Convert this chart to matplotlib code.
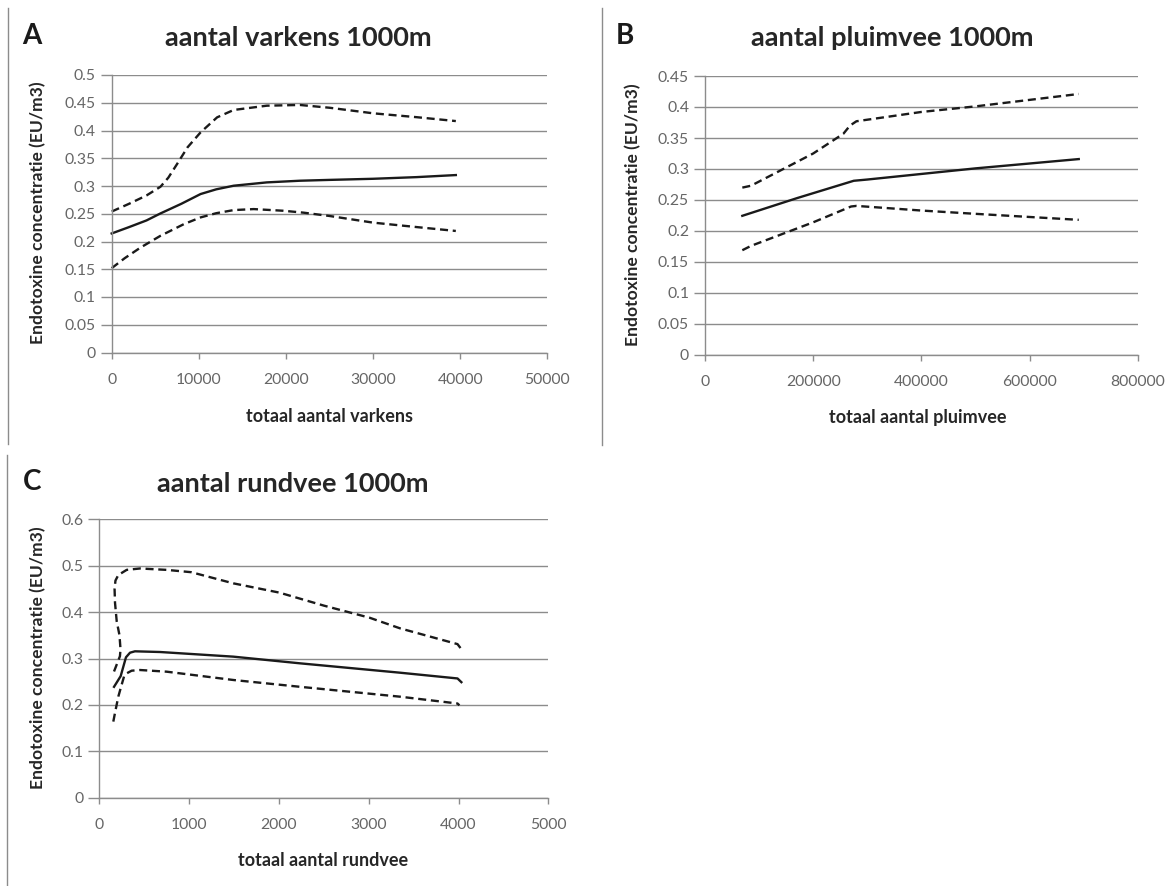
import matplotlib
matplotlib.use("Agg")
import matplotlib.pyplot as plt
from matplotlib.lines import Line2D
from matplotlib.ticker import FuncFormatter, MultipleLocator

plt.rcParams['font.family'] = ['Lato', 'DejaVu Sans']

# data (model fit + confidence band)
a_mid_x = [0, 2000, 4000, 5600, 8000, 10200, 12000, 14000, 17800, 21600, 25000, 30000, 35000, 39500]
a_mid_y = [0.2145, 0.226, 0.238, 0.2506, 0.268, 0.2855, 0.294, 0.3005, 0.3065, 0.3095, 0.311, 0.313, 0.316, 0.3197]
a_up_x = [0, 2000, 4000, 5600, 6500, 7500, 8700, 10200, 12100, 14000, 17800, 21600, 25000, 30000, 35000, 39500]
a_up_y = [0.254, 0.268, 0.283, 0.2987, 0.315, 0.3395, 0.3696, 0.3966, 0.4237, 0.437, 0.4447, 0.446, 0.441, 0.431, 0.424, 0.417]
a_lo_x = [0, 1500, 3300, 5600, 8300, 10200, 12000, 14000, 16300, 19700, 22000, 25000, 30000, 35000, 39500]
a_lo_y = [0.152, 0.170, 0.189, 0.2103, 0.2314, 0.2434, 0.251, 0.2566, 0.2584, 0.2554, 0.252, 0.246, 0.234, 0.226, 0.219]

b_mid_x = [69000, 170000, 260000, 275000, 300000, 500000, 691000]
b_mid_y = [0.2245, 0.253, 0.277, 0.281, 0.283, 0.301, 0.316]
b_up_x = [69000, 85000, 200000, 256000, 268000, 280000, 400000, 500000, 691000]
b_up_y = [0.270, 0.273, 0.325, 0.357, 0.370, 0.377, 0.392, 0.401, 0.421]
b_lo_x = [69000, 85000, 200000, 270000, 280000, 400000, 500000, 691000]
b_lo_y = [0.169, 0.176, 0.214, 0.2395, 0.2405, 0.233, 0.2277, 0.218]

c_mid_x = [164, 238, 267, 297, 342, 397, 676, 1492, 2235, 3349, 3989, 4032]
c_mid_y = [0.239, 0.262, 0.282, 0.3026, 0.3125, 0.3155, 0.314, 0.304, 0.2896, 0.2694, 0.257, 0.249]
c_up_x = [164, 230, 236, 225, 194, 175, 170, 180, 212, 305, 453, 750, 1024, 1492, 2005, 2500, 3008, 3349, 3989, 4032]
c_up_y = [0.272, 0.305, 0.32, 0.35, 0.38, 0.42, 0.45, 0.468, 0.48, 0.491, 0.494, 0.491, 0.486, 0.462, 0.442, 0.414, 0.388, 0.365, 0.331, 0.32]
c_lo_x = [156, 175, 212, 238, 275, 305, 360, 453, 750, 1492, 2235, 3349, 3989, 4010]
c_lo_y = [0.164, 0.183, 0.218, 0.236, 0.261, 0.268, 0.2737, 0.2752, 0.2716, 0.2537, 0.239, 0.2177, 0.203, 0.199]

W, H = 1176, 886
fig = plt.figure(figsize=(W / 100, H / 100), dpi=100)


def fx(x):
    return x / W


def fy(y):
    return 1 - y / H


def make_axes(box, xmax, xstep, ymax, ystep):
    # box in pixels: left, top, right, bottom
    l, t, r, b = box
    ax = fig.add_axes([fx(l), fy(b), fx(r - l), (b - t) / H])
    ax.set_xlim(0, xmax)
    ax.set_ylim(0, ymax)
    ax.xaxis.set_major_locator(MultipleLocator(xstep))
    ax.yaxis.set_major_locator(MultipleLocator(ystep))
    ax.xaxis.set_major_formatter(FuncFormatter(lambda v, p: "%d" % round(v)))
    ax.yaxis.set_major_formatter(FuncFormatter(lambda v, p: "%g" % round(v, 3)))
    for s in ['top', 'right']:
        ax.spines[s].set_visible(False)
    for s in ['left', 'bottom']:
        ax.spines[s].set_color('#8c8c8c')
        ax.spines[s].set_linewidth(1)
    ax.grid(axis='y', color='#8c8c8c', linewidth=1)
    ax.set_axisbelow(True)
    ax.tick_params(axis='y', length=8, width=1, color='#8c8c8c', pad=3.5,
                   labelsize=11.3, labelcolor='#666666')
    ax.tick_params(axis='x', length=4.5, width=1, color='#8c8c8c', pad=10,
                   labelsize=11.3, labelcolor='#666666')
    return ax


def draw(ax, mx, my, ux, uy, lx, ly):
    ax.plot(mx, my, color='#1a1a1a', linewidth=1.7, clip_on=False)
    ax.plot(ux, uy, color='#1a1a1a', linewidth=1.7, dashes=(3.4, 2.0), clip_on=False)
    ax.plot(lx, ly, color='#1a1a1a', linewidth=1.7, dashes=(3.4, 2.0), clip_on=False)


def labels(letter, lpos, title, tpos, xlabel, xpos, ypos):
    fig.text(fx(lpos[0]), fy(lpos[1]), letter, ha='center', va='center',
             fontsize=20, fontweight='bold', color='#1a1a1a')
    fig.text(fx(tpos[0]), fy(tpos[1]), title, ha='center', va='center',
             fontsize=19.5, fontweight='bold', color='#262626')
    fig.text(fx(xpos[0]), fy(xpos[1]), xlabel, ha='center', va='center',
             fontsize=13, fontweight='bold', color='#262626')
    fig.text(fx(ypos[0]), fy(ypos[1]), 'Endotoxine concentratie (EU/m3)',
             ha='center', va='center', rotation=90,
             fontsize=12.6, fontweight='bold', color='#262626')


# A
axA = make_axes((111.7, 75, 547.3, 352.5), 50000, 10000, 0.5, 0.05)
draw(axA, a_mid_x, a_mid_y, a_up_x, a_up_y, a_lo_x, a_lo_y)
labels('A', (32, 36), 'aantal varkens 1000m', (298, 38),
       'totaal aantal varkens', (329, 416), (38, 213))

# B
axB = make_axes((705, 76, 1137.7, 355), 800000, 200000, 0.45, 0.05)
draw(axB, b_mid_x, b_mid_y, b_up_x, b_up_y, b_lo_x, b_lo_y)
labels('B', (625, 36), 'aantal pluimvee 1000m', (892, 38),
       'totaal aantal pluimvee', (918, 418), (633, 215))

# C
axC = make_axes((99.3, 519.3, 548.3, 797.7), 5000, 1000, 0.6, 0.1)
draw(axC, c_mid_x, c_mid_y, c_up_x, c_up_y, c_lo_x, c_lo_y)
labels('C', (32, 482), 'aantal rundvee 1000m', (293, 484),
       'totaal aantal rundvee', (323, 861), (38, 658))

# thin panel separators
for x, y0, y1 in [(8, 8, 444), (601.5, 8, 445), (7, 455, 886)]:
    fig.add_artist(Line2D([fx(x), fx(x)], [fy(y0), fy(y1)],
                          transform=fig.transFigure, color='#8c8c8c', linewidth=1))

fig.savefig('out.png', dpi=100)
